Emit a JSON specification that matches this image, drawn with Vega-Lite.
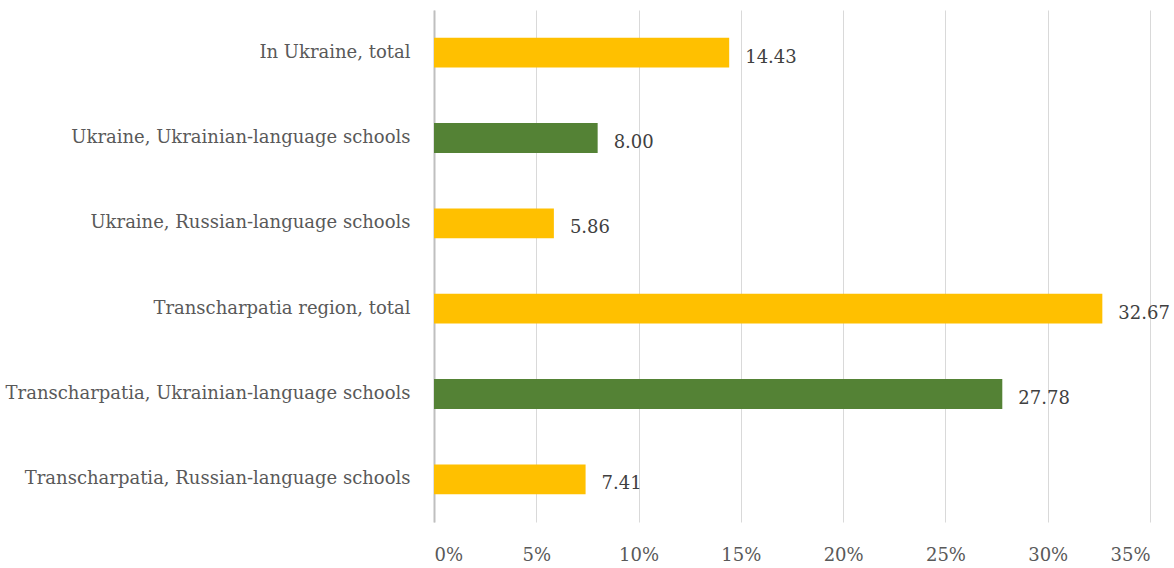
{
  "$schema": "https://vega.github.io/schema/vega-lite/v6.json",
  "width": 716,
  "height": 512,
  "autosize": {"type": "none"},
  "padding": {"left": 434, "top": 10, "right": 24, "bottom": 46},
  "background": "white",
  "data": {
    "values": [
      {"category": "In Ukraine, total", "value": 14.43, "group": "other"},
      {"category": "Ukraine, Ukrainian-language schools", "value": 8.00, "group": "ukrainian"},
      {"category": "Ukraine, Russian-language schools", "value": 5.86, "group": "other"},
      {"category": "Transcharpatia region, total", "value": 32.67, "group": "other"},
      {"category": "Transcharpatia, Ukrainian-language schools", "value": 27.78, "group": "ukrainian"},
      {"category": "Transcharpatia, Russian-language schools", "value": 7.41, "group": "other"}
    ]
  },
  "config": {
    "view": {"stroke": null},
    "font": "DejaVu Serif"
  },
  "encoding": {
    "y": {
      "field": "category",
      "type": "nominal",
      "sort": null,
      "title": null,
      "scale": {"paddingInner": 0.65, "paddingOuter": 0.325},
      "axis": {
        "domain": true,
        "domainColor": "#bfbfbf",
        "domainWidth": 2,
        "ticks": false,
        "labelPadding": 24,
        "labelFontSize": 18,
        "labelColor": "#595959",
        "labelFont": "DejaVu Serif",
        "labelLimit": 500
      }
    },
    "x": {
      "field": "value",
      "type": "quantitative",
      "title": null,
      "scale": {"domain": [0, 35], "nice": false},
      "axis": {
        "values": [0, 5, 10, 15, 20, 25, 30, 35],
        "labelExpr": "datum.value + '%'",
        "domain": false,
        "ticks": false,
        "grid": true,
        "gridColor": "#d9d9d9",
        "labelPadding": 24,
        "labelFontSize": 18,
        "labelColor": "#595959",
        "labelFont": "DejaVu Serif"
      }
    }
  },
  "layer": [
    {
      "mark": {"type": "bar"},
      "encoding": {
        "color": {
          "field": "group",
          "type": "nominal",
          "scale": {"domain": ["other", "ukrainian"], "range": ["#FFC000", "#548235"]},
          "legend": null
        }
      }
    },
    {
      "mark": {"type": "text", "align": "left", "dx": 16, "dy": 5, "fontSize": 18, "color": "#404040", "font": "DejaVu Serif"},
      "encoding": {
        "text": {"field": "value", "type": "quantitative", "format": ".2f"}
      }
    }
  ]
}
